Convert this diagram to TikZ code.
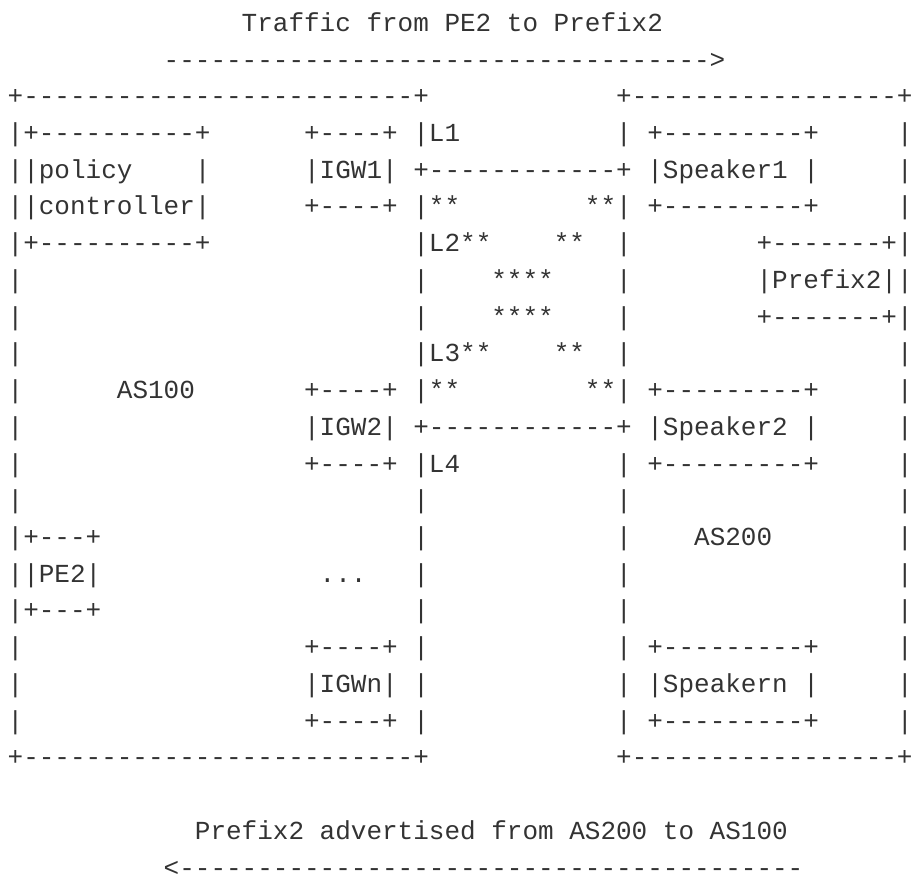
\documentclass[tikz,border=0pt]{standalone}
\usepackage{fontspec}
\setmonofont{Liberation Mono}
\definecolor{ink}{RGB}{51,51,51}
% repeat a character n times
\ExplSyntaxOn
\cs_new:Npn \chrep #1#2 { \prg_replicate:nn {#1} {#2} }
\ExplSyntaxOff
% n blank character cells
\newcommand\sgap[1]{\hspace*{#1\dimexpr0.60009em\relax}}
\begin{document}
\begin{tikzpicture}[x=0.75pt,y=-0.75pt,
  txtrow/.style={anchor=base west,inner sep=0pt,outer sep=0pt,text=ink,
    font=\ttfamily\fontsize{19.5}{23}\selectfont}]
\useasboundingbox (0,0) rectangle (913,876);
\def\rx{7.7}
\def\ry#1{31.3+36.73*#1}
\node[txtrow] (r0)  at (\rx,{\ry{0}})  {\sgap{15}Traffic from PE2 to Prefix2};
\node[txtrow] (r1)  at (\rx,{\ry{1}})  {\sgap{10}\chrep{35}{-}>};
\node[txtrow] (r2)  at (\rx,{\ry{2}})  {+\chrep{25}{-}+\sgap{12}+\chrep{17}{-}+};
\node[txtrow] (r3)  at (\rx,{\ry{3}})  {|+\chrep{10}{-}+\sgap{6}+----+\sgap{1}|L1\sgap{10}|\sgap{1}+\chrep{9}{-}+\sgap{5}|};
\node[txtrow] (r4)  at (\rx,{\ry{4}})  {||policy\sgap{4}|\sgap{6}|IGW1|\sgap{1}+\chrep{12}{-}+\sgap{1}|Speaker1\sgap{1}|\sgap{5}|};
\node[txtrow] (r5)  at (\rx,{\ry{5}})  {||controller|\sgap{6}+----+\sgap{1}|**\sgap{8}**|\sgap{1}+\chrep{9}{-}+\sgap{5}|};
\node[txtrow] (r6)  at (\rx,{\ry{6}})  {|+\chrep{10}{-}+\sgap{13}|L2**\sgap{4}**\sgap{2}|\sgap{8}+\chrep{7}{-}+|};
\node[txtrow] (r7)  at (\rx,{\ry{7}})  {|\sgap{25}|\sgap{4}****\sgap{4}|\sgap{8}|Prefix2||};
\node[txtrow] (r8)  at (\rx,{\ry{8}})  {|\sgap{25}|\sgap{4}****\sgap{4}|\sgap{8}+\chrep{7}{-}+|};
\node[txtrow] (r9)  at (\rx,{\ry{9}})  {|\sgap{25}|L3**\sgap{4}**\sgap{2}|\sgap{17}|};
\node[txtrow] (r10) at (\rx,{\ry{10}}) {|\sgap{6}AS100\sgap{7}+----+\sgap{1}|**\sgap{8}**|\sgap{1}+\chrep{9}{-}+\sgap{5}|};
\node[txtrow] (r11) at (\rx,{\ry{11}}) {|\sgap{18}|IGW2|\sgap{1}+\chrep{12}{-}+\sgap{1}|Speaker2\sgap{1}|\sgap{5}|};
\node[txtrow] (r12) at (\rx,{\ry{12}}) {|\sgap{18}+----+\sgap{1}|L4\sgap{10}|\sgap{1}+\chrep{9}{-}+\sgap{5}|};
\node[txtrow] (r13) at (\rx,{\ry{13}}) {|\sgap{25}|\sgap{12}|\sgap{17}|};
\node[txtrow] (r14) at (\rx,{\ry{14}}) {|+---+\sgap{20}|\sgap{12}|\sgap{4}AS200\sgap{8}|};
\node[txtrow] (r15) at (\rx,{\ry{15}}) {||PE2|\sgap{14}...\sgap{3}|\sgap{12}|\sgap{17}|};
\node[txtrow] (r16) at (\rx,{\ry{16}}) {|+---+\sgap{20}|\sgap{12}|\sgap{17}|};
\node[txtrow] (r17) at (\rx,{\ry{17}}) {|\sgap{18}+----+\sgap{1}|\sgap{12}|\sgap{1}+\chrep{9}{-}+\sgap{5}|};
\node[txtrow] (r18) at (\rx,{\ry{18}}) {|\sgap{18}|IGWn|\sgap{1}|\sgap{12}|\sgap{1}|Speakern\sgap{1}|\sgap{5}|};
\node[txtrow] (r19) at (\rx,{\ry{19}}) {|\sgap{18}+----+\sgap{1}|\sgap{12}|\sgap{1}+\chrep{9}{-}+\sgap{5}|};
\node[txtrow] (r20) at (\rx,{\ry{20}}) {+\chrep{25}{-}+\sgap{12}+\chrep{17}{-}+};
\node[txtrow] (r22) at (\rx,{\ry{22}}) {\sgap{12}Prefix2 advertised from AS200 to AS100};
\node[txtrow,text depth=0pt] (r23) at (\rx,{\ry{23}}) {\sgap{10}<\chrep{40}{-}};
\end{tikzpicture}
\end{document}
